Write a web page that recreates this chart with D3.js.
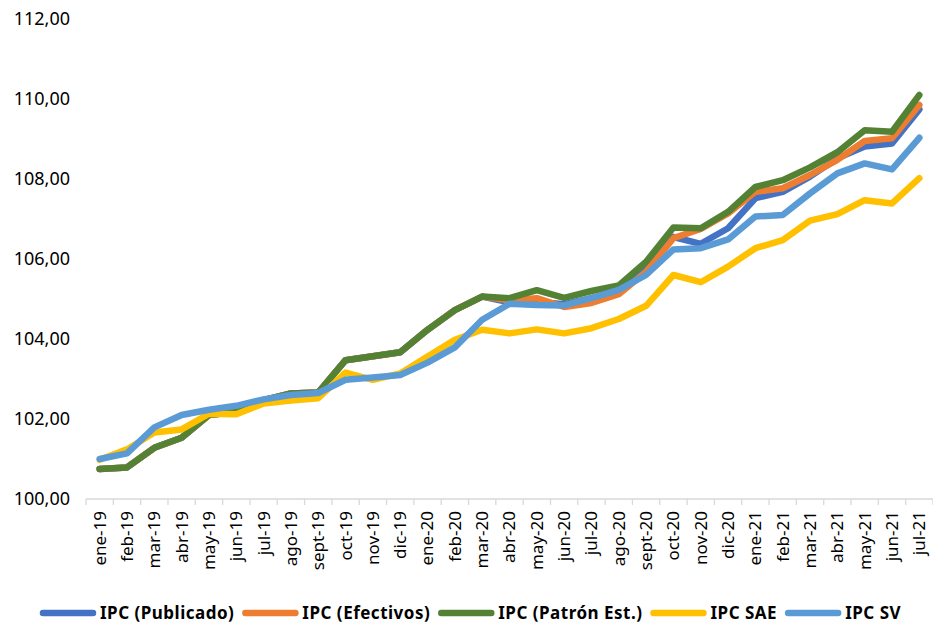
<!DOCTYPE html>
<html>
<head>
<meta charset="utf-8">
<script src="https://cdn.jsdelivr.net/npm/d3@7"></script>
<style>
  body { margin: 0; background: #fff; }
  svg { display: block; font-family: "Noto Sans", sans-serif; }
</style>
</head>
<body>
<svg id="chart" width="933" height="623"></svg>
<script>
const months = ['ene-19','feb-19','mar-19','abr-19','may-19','jun-19','jul-19','ago-19','sept-19','oct-19','nov-19','dic-19',
  'ene-20','feb-20','mar-20','abr-20','may-20','jun-20','jul-20','ago-20','sept-20','oct-20','nov-20','dic-20',
  'ene-21','feb-21','mar-21','abr-21','may-21','jun-21','jul-21'];

const ipcPublicado = [100.75,100.79,101.28,101.53,102.10,102.18,102.47,102.64,102.66,103.47,103.57,103.67,
  104.23,104.72,105.06,104.92,104.93,104.87,105.02,105.20,105.73,106.55,106.38,106.77,
  107.52,107.68,108.06,108.52,108.81,108.89,109.74];
const ipcEfectivos = [100.75,100.79,101.28,101.53,102.10,102.18,102.47,102.64,102.66,103.47,103.57,103.67,
  104.23,104.72,105.06,104.97,105.02,104.80,104.90,105.12,105.68,106.52,106.75,107.14,
  107.68,107.77,108.10,108.48,108.95,109.02,109.85];
const ipcPatron = [100.75,100.79,101.28,101.53,102.10,102.18,102.47,102.64,102.66,103.47,103.57,103.67,
  104.23,104.72,105.06,105.02,105.22,105.03,105.20,105.34,105.93,106.79,106.77,107.18,
  107.80,107.97,108.29,108.67,109.22,109.18,110.10];
const ipcSAE = [100.98,101.24,101.66,101.74,102.13,102.12,102.39,102.46,102.52,103.16,102.98,103.14,
  103.56,103.98,104.23,104.14,104.24,104.14,104.27,104.50,104.83,105.60,105.42,105.81,
  106.27,106.47,106.96,107.12,107.47,107.39,108.02];
const ipcSV = [101.00,101.14,101.79,102.10,102.23,102.33,102.49,102.60,102.65,102.98,103.04,103.10,
  103.41,103.79,104.48,104.88,104.85,104.84,105.02,105.23,105.60,106.24,106.27,106.49,
  107.06,107.10,107.64,108.14,108.39,108.24,109.03];

const yTicks = [100, 102, 104, 106, 108, 110, 112];

const series = [
  { name: 'IPC (Publicado)', values: ipcPublicado, color: '#4472C4' },
  { name: 'IPC (Efectivos)', values: ipcEfectivos, color: '#ED7D31' },
  { name: 'IPC (Patrón Est.)', values: ipcPatron, color: '#548235' },
  { name: 'IPC SAE', values: ipcSAE, color: '#FFC000' },
  { name: 'IPC SV', values: ipcSV, color: '#5B9BD5' }
];

const svg = d3.select('#chart');

const x = d3.scaleBand().domain(months).range([86, 933]);
const y = d3.scaleLinear().domain([100, 112]).range([499, 19]);

// y labels only, no axis line
svg.append('g')
  .attr('transform', 'translate(70,0)')
  .call(d3.axisLeft(y).tickValues(yTicks).tickSize(0).tickPadding(0)
    .tickFormat(d => d3.format('.2f')(d).replace('.', ',')))
  .call(g => g.select('.domain').remove())
  .selectAll('text')
    .style('font-size', '18px')
    .style('fill', '#000')
    .style('font-family', '"Noto Sans", sans-serif');

// x axis with ticks between categories
const xg = svg.append('g').attr('transform', 'translate(0,499)');
xg.append('line')
  .attr('x1', x.range()[0]).attr('x2', x.range()[1])
  .attr('stroke', '#d9d9d9').attr('stroke-width', 1.3);
xg.selectAll('.tick-mark')
  .data(months.concat(['end']))
  .join('line')
  .attr('class', 'tick-mark')
  .attr('x1', (d, i) => x.range()[0] + i * x.step())
  .attr('x2', (d, i) => x.range()[0] + i * x.step())
  .attr('y1', 0).attr('y2', 6)
  .attr('stroke', '#d9d9d9').attr('stroke-width', 1.3);
xg.selectAll('.xlabel')
  .data(months)
  .join('text')
  .attr('class', 'xlabel')
  .attr('transform', d => `translate(${x(d) + x.bandwidth() / 2},12) rotate(-90)`)
  .attr('dy', '0.35em')
  .attr('text-anchor', 'end')
  .style('font-size', '17px')
  .style('fill', '#000')
  .text(d => d);

const line = d3.line()
  .x((d, i) => x(months[i]) + x.bandwidth() / 2)
  .y(d => y(d));

svg.append('g')
  .selectAll('path')
  .data(series)
  .join('path')
  .attr('d', d => line(d.values))
  .attr('fill', 'none')
  .attr('stroke', d => d.color)
  .attr('stroke-width', 6.5)
  .attr('stroke-linejoin', 'round')
  .attr('stroke-linecap', 'round');

// legend
const legend = svg.append('g').attr('transform', 'translate(0,613)');
let lx = 43;
series.forEach(s => {
  const item = legend.append('g');
  item.append('line')
    .attr('x1', lx).attr('x2', lx + 50)
    .attr('y1', 0).attr('y2', 0)
    .attr('stroke', s.color).attr('stroke-width', 6.5)
    .attr('stroke-linecap', 'round');
  const t = item.append('text')
    .attr('x', lx + 57)
    .attr('y', 6)
    .style('font-size', '17px')
    .style('font-weight', 'bold')
    .style('letter-spacing', '0.5px')
    .style('fill', '#000')
    .text(s.name);
  lx += 57 + t.node().getComputedTextLength() + 11;
});
</script>
</body>
</html>
